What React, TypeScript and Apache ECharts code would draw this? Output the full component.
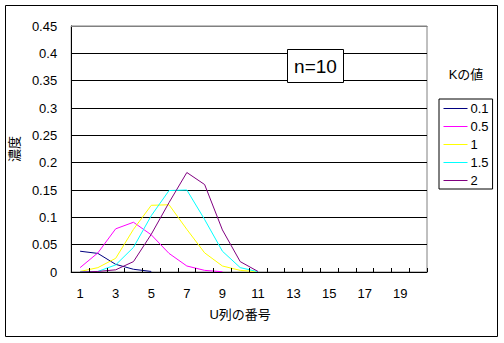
import React, { useEffect, useRef } from "react";
import * as echarts from "echarts";

const categories = Array.from({ length: 20 }, (_, i) => String(i + 1));
const seriesNames = ["0.1", "0.5", "1", "1.5", "2"];
const k01 = [0.038, 0.034, 0.014, 0.005, 0.001];
const k05 = [0.008, 0.035, 0.079, 0.091, 0.068, 0.034, 0.011, 0.003, 0.0005];
const k10 = [0.001, 0.008, 0.025, 0.078, 0.122, 0.123, 0.078, 0.035, 0.011, 0.003, 0.0005];
const k15 = [0.0003, 0.001, 0.013, 0.045, 0.103, 0.149, 0.15, 0.096, 0.038, 0.008, 0.0005];
const k20 = [0.0001, 0.001, 0.004, 0.019, 0.069, 0.127, 0.182, 0.16, 0.077, 0.019, 0.001];
const seriesValues = [k01, k05, k10, k15, k20];
const colors = ["#000080", "#FF00FF", "#FFFF00", "#00FFFF", "#800080"];
const titleText = "n=10";
const legendTitle = "Kの値";
const xName = "U列の番号";
const yName = "濃度";

const FONT = "'Liberation Sans', 'Noto Sans CJK JP', sans-serif";

export default function App() {
  const ref = useRef<HTMLDivElement>(null);
  useEffect(() => {
    document.body.style.margin = "0";
    const chart = echarts.init(ref.current!, null, { renderer: "svg" });
    chart.setOption({
      animation: false,
      backgroundColor: "#ffffff",
      textStyle: { fontFamily: FONT, color: "#000" },
      grid: {
        left: 71,
        right: 77,
        top: 26,
        bottom: 71,
        show: true,
        borderColor: "#808080",
        borderWidth: 1,
        backgroundColor: "transparent",
      },
      xAxis: {
        type: "category",
        data: categories,
        boundaryGap: true,
        z: 5,
        axisLine: { lineStyle: { color: "#000", width: 1 } },
        axisTick: { show: true, inside: true, length: 4, interval: 0, lineStyle: { color: "#000" } },
        axisLabel: { interval: 1, margin: 15, fontSize: 13, color: "#000", fontFamily: FONT },
        name: xName,
        nameLocation: "middle",
        nameGap: 36,
        nameTextStyle: { fontSize: 13, color: "#000", fontFamily: FONT, padding: [0, 18, 0, 0] },
        splitLine: { show: false },
      },
      yAxis: {
        type: "value",
        min: 0,
        max: 0.45,
        interval: 0.05,
        axisLine: { show: true, lineStyle: { color: "#000", width: 1 } },
        axisTick: { show: false },
        axisLabel: { margin: 14, fontSize: 13, color: "#000", fontFamily: FONT },
        splitLine: { show: true, lineStyle: { color: "#000", width: 1 } },
        name: yName,
        nameLocation: "middle",
        nameGap: 50,
        nameTextStyle: { fontSize: 13, color: "#000", fontFamily: FONT },
      },
      legend: {
        orient: "vertical",
        left: 439,
        top: 99,
        padding: [3, 4, 2, 4],
        itemWidth: 24,
        itemHeight: 15,
        itemGap: 5,
        borderColor: "#000",
        borderWidth: 1,
        backgroundColor: "#fff",
        itemStyle: { opacity: 0 },
        lineStyle: { width: 1 },
        textStyle: { fontSize: 13, color: "#000", fontFamily: FONT, padding: [0, 0, 0, -2] },
        data: seriesNames,
      },
      series: seriesNames.map((name, i) => ({
        name,
        type: "line",
        data: seriesValues[i],
        symbol: "none",
        showSymbol: false,
        color: colors[i],
        lineStyle: { color: colors[i], width: 1 },
        z: 2,
      })),
      graphic: [
        {
          type: "rect",
          shape: { x: 5.5, y: 5.5, width: 492, height: 331 },
          style: { fill: "none", stroke: "#000", lineWidth: 1 },
          z: 100,
        },
        {
          type: "line",
          shape: { x1: 71, y1: 26.5, x2: 427.5, y2: 26.5 },
          style: { stroke: "#808080", lineWidth: 1 },
          z: 100,
        },
        {
          type: "rect",
          shape: { x: 287.5, y: 49.5, width: 56, height: 33 },
          style: { fill: "#fff", stroke: "#000", lineWidth: 1 },
          z: 100,
        },
        {
          type: "text",
          x: 315.5,
          y: 66,
          style: {
            text: titleText,
            fontSize: 19,
            fontFamily: FONT,
            fill: "#000",
            align: "center",
            verticalAlign: "middle",
          },
          z: 101,
        },
        {
          type: "text",
          x: 466,
          y: 74,
          style: {
            text: legendTitle,
            fontSize: 13,
            fontFamily: FONT,
            fill: "#000",
            align: "center",
            verticalAlign: "middle",
          },
          z: 101,
        },
      ],
    });
    return () => chart.dispose();
  }, []);
  return <div ref={ref} style={{ width: 504, height: 343 }} />;
}
